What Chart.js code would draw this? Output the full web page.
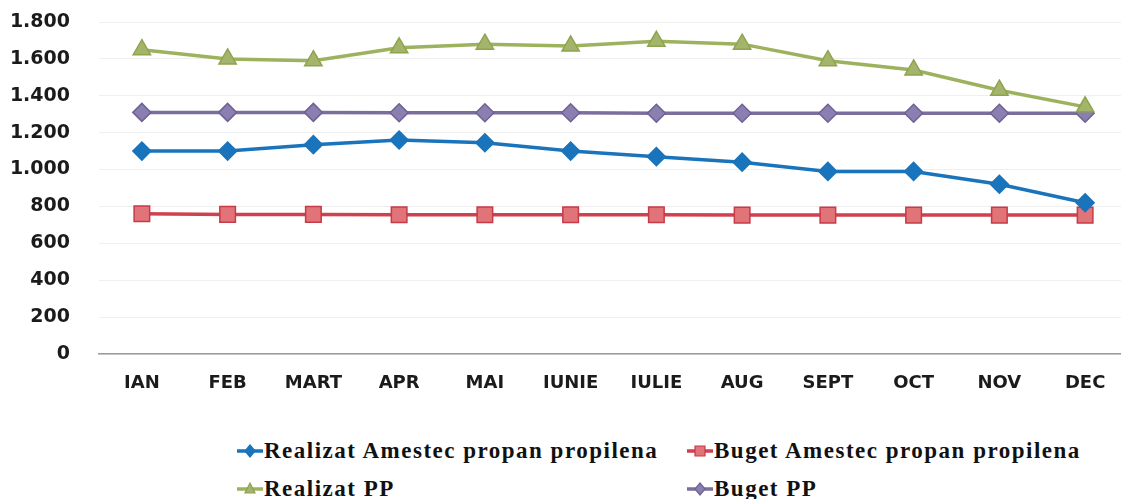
<!DOCTYPE html>
<html>
<head>
<meta charset="utf-8">
<script src="https://cdn.jsdelivr.net/npm/chart.js@4/dist/chart.umd.min.js"></script>
<style>
  body { margin: 0; background: #fff; overflow: hidden; }
  #wrap { position: relative; width: 1128px; height: 410px; }
  #legend { position: absolute; left: 0; top: 410px; width: 1121px; height: 89px; }
  .item { position: absolute; display: flex; align-items: center; font-family: "Liberation Serif", serif; font-weight: bold; font-size: 23px; letter-spacing: 1.5px; color: #111; white-space: nowrap; }
  .item canvas { margin-right: 1px; }
</style>
</head>
<body>
<div id="wrap"><canvas id="chart" width="1128" height="410"></canvas></div>
<div id="legend"></div>
<script>
const months = ['IAN', 'FEB', 'MART', 'APR', 'MAI', 'IUNIE', 'IULIE', 'AUG', 'SEPT', 'OCT', 'NOV', 'DEC'];
const realizatAmestec = [1100, 1100, 1135, 1160, 1145, 1100, 1070, 1040, 990, 990, 920, 820];
const bugetAmestec = [760, 757, 757, 755, 755, 755, 755, 753, 753, 753, 753, 753];
const realizatPP = [1650, 1600, 1590, 1660, 1680, 1670, 1695, 1680, 1590, 1540, 1430, 1340];
const bugetPP = [1310, 1310, 1310, 1308, 1308, 1308, 1305, 1305, 1305, 1305, 1305, 1305];

const series = [
  { label: 'Realizat Amestec propan propilena', data: realizatAmestec, line: '#1a74bb', fill: '#1a74bb', style: 'rectRot', r: 9 },
  { label: 'Buget Amestec propan propilena', data: bugetAmestec, line: '#d0404e', fill: '#e07478', border: '#c73a48', style: 'rect', r: 11 },
  { label: 'Realizat PP', data: realizatPP, line: '#9db25e', fill: '#a4b46a', border: '#8ea34e', style: 'triangle', r: 10 },
  { label: 'Buget PP', data: bugetPP, line: '#7a6e9c', fill: '#8a7fb0', border: '#6e6294', style: 'rectRot', r: 9 }
];

function fmt(v) {
  return String(v).replace(/\B(?=(\d{3})+(?!\d))/g, '.');
}

new Chart(document.getElementById('chart'), {
  type: 'line',
  data: {
    labels: months,
    datasets: series.map(s => ({
      label: s.label,
      data: s.data,
      borderColor: s.line,
      borderWidth: 3.5,
      pointStyle: s.style,
      pointRadius: s.r,
      pointBackgroundColor: s.fill,
      pointBorderColor: s.border || s.line,
      pointBorderWidth: 1.5,
      tension: 0
    }))
  },
  options: {
    responsive: false,
    animation: false,
    layout: { autoPadding: false, padding: { top: 22, right: 0, left: 0, bottom: 0 } },
    plugins: { legend: { display: false }, tooltip: { enabled: false } },
    scales: {
      x: {
        offset: true,
        grid: { display: false, drawTicks: false },
        border: { display: true, color: '#9a9a9a', width: 1.5 },
        ticks: { padding: 19, color: '#1b1b1b', font: { family: 'DejaVu Sans', size: 18, weight: 'bold' } },
        afterFit: a => { a.height = 56; }
      },
      y: {
        min: 0,
        max: 1800,
        grid: { drawTicks: false, color: '#efefef', lineWidth: 1 },
        border: { display: false },
        ticks: {
          stepSize: 200,
          padding: 29,
          color: '#1b1b1b',
          font: { family: 'DejaVu Sans', size: 19, weight: 'bold' },
          callback: v => fmt(v)
        },
        afterFit: a => { a.width = 99; a.paddingTop = 0; a.paddingBottom = 0; }
      }
    }
  }
});

// legend in two columns
const pos = [[237, 451], [687, 451], [237, 489], [687, 489]];
const legend = document.getElementById('legend');
series.forEach((s, i) => {
  const item = document.createElement('div');
  item.className = 'item';
  item.style.left = pos[i][0] + 'px';
  item.style.top = (pos[i][1] - 410 - 14) + 'px';
  item.style.height = '28px';
  const c = document.createElement('canvas');
  c.width = 26; c.height = 20;
  const g = c.getContext('2d');
  g.strokeStyle = s.line; g.lineWidth = 3.5;
  g.beginPath(); g.moveTo(0, 10); g.lineTo(26, 10); g.stroke();
  g.fillStyle = s.fill; g.strokeStyle = s.border || s.line; g.lineWidth = 1.2;
  g.beginPath();
  if (s.style === 'rect') { g.rect(8, 5, 10, 10); }
  else if (s.style === 'triangle') { g.moveTo(13, 4); g.lineTo(18, 14); g.lineTo(8, 14); g.closePath(); }
  else { g.moveTo(13, 4); g.lineTo(18, 10); g.lineTo(13, 16); g.lineTo(8, 10); g.closePath(); }
  g.fill(); g.stroke();
  item.appendChild(c);
  const t = document.createElement('span');
  t.textContent = s.label;
  item.appendChild(t);
  legend.appendChild(item);
});
</script>
</body>
</html>
